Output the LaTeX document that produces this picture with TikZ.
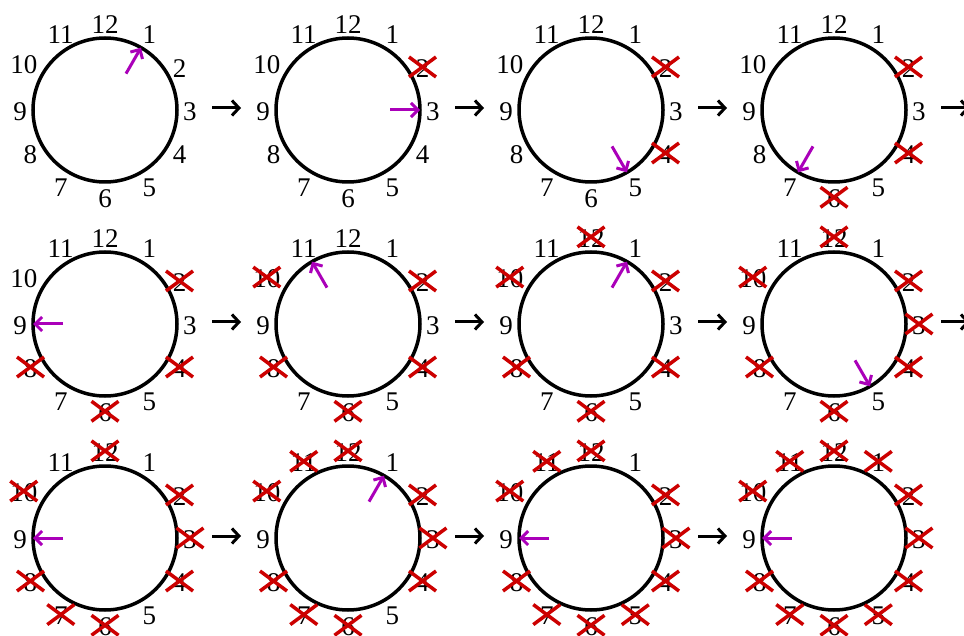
\documentclass[tikz,border=0pt]{standalone}
\usepackage{fontspec}
\setmainfont{Liberation Serif}
\usetikzlibrary{arrows.meta}
\definecolor{handc}{RGB}{170,0,185}
\definecolor{xred}{RGB}{204,0,0}
\tikzset{
  dial/.style={circle,draw=black,line width=3.5pt,minimum size=144pt,inner sep=0pt,outer sep=0pt},
  num/.style={inner sep=0pt,font=\fontsize{27}{27}\selectfont},
  handarrow/.style={draw=handc,line width=3pt,-{Straight Barb[length=7pt,width=14pt]}},
  flow/.style={draw=black,line width=3pt,-{Straight Barb[length=7pt,width=15pt]}},
  cross/.style={draw=xred,line width=3.5pt}
}
\newcommand\clockface[3]{%
  \node[dial] (#1) at (#2) {};
  \foreach \k in {1,...,12}{%
    \pgfmathtruncatemacro\numang{mod(450-30*\k,360)}%
    \pgfmathtruncatemacro\numanc{mod(630-30*\k,360)}%
    \node[num,anchor=\numanc] (#1-\k) at ([shift={(\numang:78)},yshift=-1.5]#1.center) {\k};
  }%
  \pgfmathtruncatemacro\handang{mod(450-30*#3,360)}%
  \coordinate (#1-h) at ([shift={(\handang:42)}]#1.center);
  \draw[handarrow] (#1-h) -- (#1.\handang);
}
\newcommand\strike[2]{%
  \foreach \k in {#2}{%
    \draw[cross] ([shift={(-13.5,-8.5)}]#1-\k.center) -- ([shift={(13.5,11.5)}]#1-\k.center);
    \draw[cross] ([shift={(-13.5,11.5)}]#1-\k.center) -- ([shift={(13.5,-8.5)}]#1-\k.center);
  }%
}
\begin{document}
\begin{tikzpicture}[x=1pt,y=1pt]
\useasboundingbox (0,0) rectangle (964,-636);
% row 1
\clockface{c11}{105,-110}{1}
\clockface{c21}{348,-110}{3}
\clockface{c31}{591,-110}{5}
\clockface{c41}{834,-110}{7}
% row 2
\clockface{c12}{105,-324}{9}
\clockface{c22}{348,-324}{11}
\clockface{c32}{591,-324}{1}
\clockface{c42}{834,-324}{5}
% row 3
\clockface{c13}{105,-538}{9}
\clockface{c23}{348,-538}{1}
\clockface{c33}{591,-538}{9}
\clockface{c43}{834,-538}{9}
% crossed out
\strike{c21}{2}
\strike{c31}{2,4}
\strike{c41}{2,4,6}
\strike{c12}{2,4,6,8}
\strike{c22}{2,4,6,8,10}
\strike{c32}{2,4,6,8,10,12}
\strike{c42}{2,3,4,6,8,10,12}
\strike{c13}{2,3,4,6,7,8,10,12}
\strike{c23}{2,3,4,6,7,8,10,11,12}
\strike{c33}{2,3,4,5,6,7,8,10,11,12}
\strike{c43}{1,2,3,4,5,6,7,8,10,11,12}
% flow arrows
\coordinate (e1) at ([shift={(64,2)}]c41.east);
\coordinate (e2) at ([shift={(64,2)}]c42.east);
\draw[flow] ([shift={(35,2)}]c11.east) -- ([shift={(-35,2)}]c21.west);
\draw[flow] ([shift={(35,2)}]c21.east) -- ([shift={(-35,2)}]c31.west);
\draw[flow] ([shift={(35,2)}]c31.east) -- ([shift={(-35,2)}]c41.west);
\draw[flow] ([shift={(35,2)}]c41.east) -- (e1);
\draw[flow] ([shift={(35,2)}]c12.east) -- ([shift={(-35,2)}]c22.west);
\draw[flow] ([shift={(35,2)}]c22.east) -- ([shift={(-35,2)}]c32.west);
\draw[flow] ([shift={(35,2)}]c32.east) -- ([shift={(-35,2)}]c42.west);
\draw[flow] ([shift={(35,2)}]c42.east) -- (e2);
\draw[flow] ([shift={(35,2)}]c13.east) -- ([shift={(-35,2)}]c23.west);
\draw[flow] ([shift={(35,2)}]c23.east) -- ([shift={(-35,2)}]c33.west);
\draw[flow] ([shift={(35,2)}]c33.east) -- ([shift={(-35,2)}]c43.west);
\end{tikzpicture}
\end{document}
